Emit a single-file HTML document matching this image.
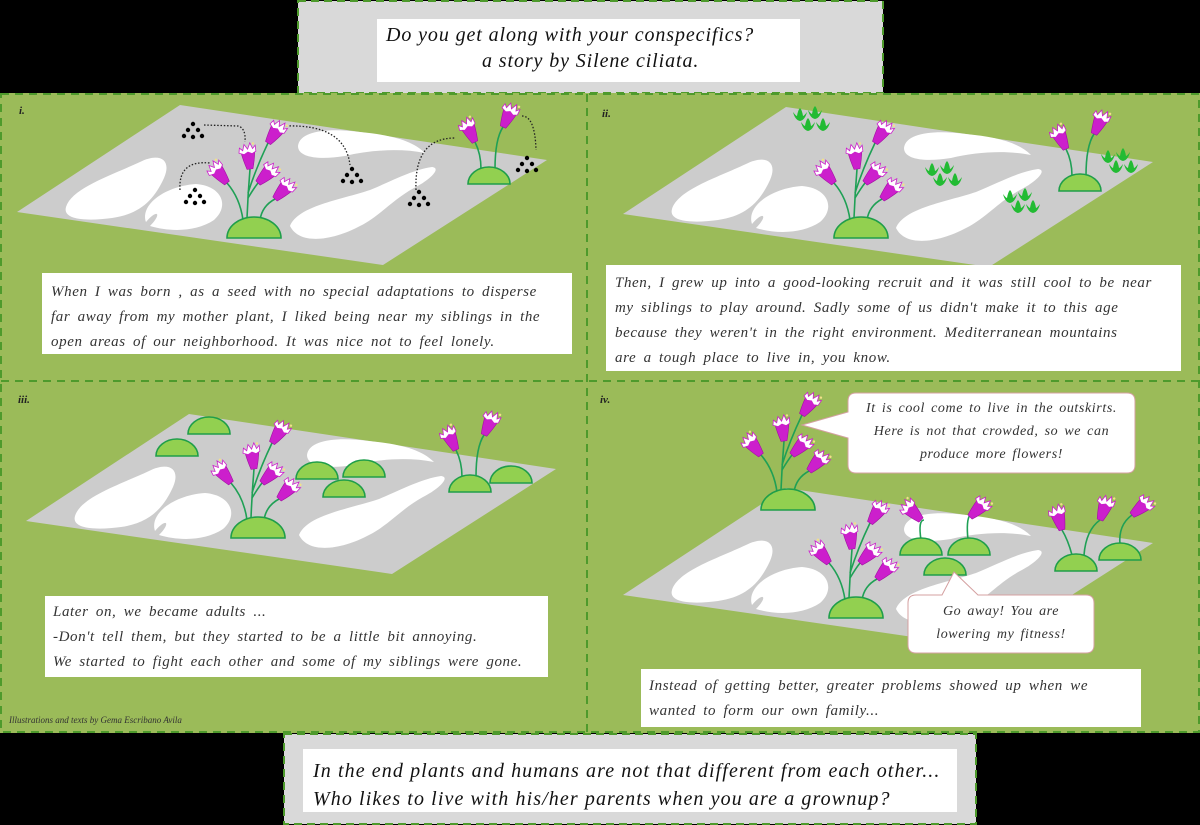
<!DOCTYPE html>
<html><head><meta charset="utf-8">
<style>
html,body{margin:0;padding:0;background:#000;}
#wrap{position:relative;width:1200px;height:825px;overflow:hidden;background:#000;font-family:"Liberation Serif",serif;font-style:italic;color:#222;}
svg{position:absolute;left:0;top:0;}
.t{position:absolute;white-space:nowrap;font-size:15px;line-height:25px;letter-spacing:0.6px;word-spacing:3px;color:#333;}
.h{position:absolute;white-space:nowrap;color:#111;}
.lab{position:absolute;font-size:11px;font-weight:bold;color:#222;}
</style></head><body><div id="wrap">
<svg width="1200" height="825" viewBox="0 0 1200 825">
<defs>
<g id="bell">
<path d="M-3,0 Q-6,-10 -7,-18 L7,-18 Q6,-10 3,0 Z" fill="#cc1fcc" stroke="#a010a0" stroke-width="0.6"/>
<polygon points="-9,-17 -8,-22 -5,-19 -3,-25 0,-20 3,-26 5,-20 8,-23 8,-17 4,-15 0,-17 -4,-15" fill="#fff" stroke="#cc1fcc" stroke-width="0.8"/>
<circle cx="6" cy="-25" r="1.2" fill="#f4e08a"/>
</g>
<path id="mound" d="M-27,0 A27,21 0 0 1 27,0 Z" fill="#92d050" stroke="#1f9e4a" stroke-width="1.6"/>
<path id="mounds" d="M-21,0 A21,17 0 0 1 21,0 Z" fill="#92d050" stroke="#1f9e4a" stroke-width="1.6"/>
<g id="plant5">
<g fill="none" stroke="#1fa055" stroke-width="1.6">
<path d="M-11,-18 Q-14,-40 -27,-55"/>
<path d="M-7,-20 Q-6,-45 -4,-69"/>
<path d="M-6,-45 Q2,-70 14,-95"/>
<path d="M-6,-40 Q0,-50 4,-55"/>
<path d="M6,-18 Q8,-32 21,-39"/>
</g>
<use href="#bell" transform="translate(-27,-55) rotate(-39)"/>
<use href="#bell" transform="translate(-4,-69) rotate(-7)"/>
<use href="#bell" transform="translate(14,-95) rotate(34)"/>
<use href="#bell" transform="translate(4,-55) rotate(45)"/>
<use href="#bell" transform="translate(21,-39) rotate(43)"/>
<use href="#mound"/>
</g>
<g id="plant2">
<g fill="none" stroke="#1fa055" stroke-width="1.6">
<path d="M-8,-15 Q-8,-30 -14,-42"/>
<path d="M6,-15 Q6,-45 14,-57"/>
</g>
<use href="#bell" transform="translate(-14,-42) rotate(-25)"/>
<use href="#bell" transform="translate(14,-57) rotate(25)"/>
<use href="#mounds"/>
</g>
<g id="seeds" fill="#000">
<circle cx="0" cy="0" r="2.2"/><circle cx="-5" cy="6" r="2.2"/><circle cx="5" cy="6" r="2.2"/>
<circle cx="-9" cy="12" r="2.2"/><circle cx="0" cy="13" r="2.2"/><circle cx="9" cy="12" r="2.2"/>
</g>
<g id="tuft" fill="#22bb33">
<path d="M-7,-6 Q-5,2 0,3 Q5,2 7,-6 Q4,-2 3,-2 Q2,-8 0,-10 Q-2,-8 -3,-2 Q-4,-2 -7,-6Z"/>
</g>
<g id="tuft4">
<use href="#tuft" transform="translate(0,0)"/><use href="#tuft" transform="translate(15,-2)"/>
<use href="#tuft" transform="translate(8,10)"/><use href="#tuft" transform="translate(23,10)"/>
</g>
<g id="land">
<path d="M17,212 L180,105 L547,160 L383,265 Z" fill="#cccccc"/>
<g fill="#fff">
<path d="M66,207 C72,188 110,176 140,162 C160,152 172,160 164,178 C154,200 140,214 112,218 C90,221 62,221 66,207Z"/>
<path d="M146,222 C140,204 166,186 196,184 C222,186 230,206 214,220 C196,232 170,232 150,226 C162,214 158,208 146,222Z"/>
<path d="M298,146 C300,130 330,128 360,132 C390,135 412,140 425,153 C400,148 370,150 345,156 C320,160 298,158 298,146Z"/>
<path d="M290,226 C298,206 340,200 370,190 C394,180 412,170 432,167 C442,168 430,180 414,188 C392,200 380,216 360,226 C334,240 300,246 290,226Z"/>
</g>
</g>
</defs>

<rect x="298" y="1" width="585" height="92" fill="#d9d9d9" stroke="#4e9a2c" stroke-width="2" stroke-dasharray="8,5"/>
<rect x="377" y="19" width="423" height="63" fill="#fff"/>

<rect x="0" y="93" width="1200" height="640" fill="#9bbb59"/>
<g fill="none" stroke="#4e9a2c" stroke-width="2" stroke-dasharray="8,6">
<rect x="1" y="94" width="1198" height="638"/>
<line x1="587" y1="94" x2="587" y2="732"/>
<line x1="1" y1="381" x2="1199" y2="381"/>
</g>

<use href="#land"/>
<g fill="none" stroke="#222" stroke-width="1.3" stroke-dasharray="1.5,1.8">
<path d="M180,190 Q178,160 210,163"/>
<path d="M204,125 L238,126 Q246,128 245,142"/>
<path d="M286,126 Q345,124 350,165"/>
<path d="M416,190 Q414,138 455,138"/>
<path d="M522,116 Q535,116 536,150"/>
</g>
<use href="#seeds" transform="translate(193,124)"/>
<use href="#seeds" transform="translate(195,190)"/>
<use href="#seeds" transform="translate(352,169)"/>
<use href="#seeds" transform="translate(419,192)"/>
<use href="#seeds" transform="translate(527,158)"/>
<use href="#plant5" transform="translate(254,238)"/>
<use href="#plant2" transform="translate(489,184)"/>

<g transform="translate(606,2)"><use href="#land"/></g>
<use href="#tuft4" transform="translate(800,118)"/>
<use href="#tuft4" transform="translate(932,173)"/>
<use href="#tuft4" transform="translate(1010,200)"/>
<use href="#tuft4" transform="translate(1108,160)"/>
<use href="#plant5" transform="translate(861,238)"/>
<use href="#plant2" transform="translate(1080,191)"/>

<g transform="translate(9,309)"><use href="#land"/></g>
<use href="#mounds" transform="translate(209,434)"/>
<use href="#mounds" transform="translate(177,456)"/>
<use href="#mounds" transform="translate(317,479)"/>
<use href="#mounds" transform="translate(364,477)"/>
<use href="#mounds" transform="translate(344,497)"/>
<use href="#mounds" transform="translate(511,483)"/>
<use href="#plant5" transform="translate(258,538)"/>
<use href="#plant2" transform="translate(470,492)"/>

<g transform="translate(606,383)"><use href="#land"/></g>
<use href="#plant5" transform="translate(788,510)"/>
<use href="#plant5" transform="translate(856,618)"/>
<g fill="none" stroke="#1fa055" stroke-width="1.6">
<path d="M921,540 Q918,520 924,520"/><path d="M968,540 Q966,520 970,515"/>
<path d="M1072,555 Q1068,540 1062,530"/><path d="M1084,555 Q1086,530 1100,520"/><path d="M1120,545 Q1118,525 1132,515"/>
</g>
<use href="#bell" transform="translate(921,520) rotate(-45)"/>
<use href="#bell" transform="translate(970,517) rotate(45)"/>
<use href="#bell" transform="translate(1062,530) rotate(-15)"/>
<use href="#bell" transform="translate(1100,520) rotate(20)"/>
<use href="#bell" transform="translate(1132,515) rotate(50)"/>
<use href="#mounds" transform="translate(921,555)"/>
<use href="#mounds" transform="translate(969,555)"/>
<use href="#mounds" transform="translate(945,575)"/>
<use href="#mounds" transform="translate(1076,571)"/>
<use href="#mounds" transform="translate(1120,560)"/>

<path d="M856,393 L1127,393 Q1135,393 1135,401 L1135,465 Q1135,473 1127,473 L856,473 Q848,473 848,465 L848,438 L802,425 L848,412 L848,401 Q848,393 856,393 Z" fill="#fff" stroke="#d4a0a0" stroke-width="1"/>
<path d="M916,595 L942,595 L954,572 L978,595 L1086,595 Q1094,595 1094,603 L1094,645 Q1094,653 1086,653 L916,653 Q908,653 908,645 L908,603 Q908,595 916,595 Z" fill="#fff" stroke="#d4a0a0" stroke-width="1"/>

<rect x="42" y="273" width="530" height="81" fill="#fff"/>
<rect x="606" y="265" width="575" height="106" fill="#fff"/>
<rect x="45" y="596" width="503" height="81" fill="#fff"/>
<rect x="641" y="669" width="500" height="58" fill="#fff"/>

<rect x="284" y="734" width="692" height="90" fill="#d9d9d9" stroke="#4e9a2c" stroke-width="2" stroke-dasharray="8,5"/>
<rect x="303" y="749" width="654" height="63" fill="#fff"/>
</svg>

<div class="h" style="left:386px;top:24px;font-size:20px;letter-spacing:0.9px;">Do you get along with your conspecifics?</div>
<div class="h" style="left:482px;top:50px;font-size:20px;letter-spacing:0.9px;">a story by Silene ciliata.</div>

<div class="lab" style="left:19px;top:105px;">i.</div>
<div class="lab" style="left:602px;top:108px;">ii.</div>
<div class="lab" style="left:18px;top:394px;">iii.</div>
<div class="lab" style="left:600px;top:394px;">iv.</div>

<div class="t" style="left:51px;top:280px;">When I was born , as a seed with no special adaptations to disperse<br>far away from my mother plant, I liked being near my siblings in the<br>open  areas of our neighborhood. It was nice not to feel lonely.</div>
<div class="t" style="left:615px;top:271px;">Then, I grew up into a  good-looking recruit and it was still cool to be near<br>my siblings to play around. Sadly some  of us didn't make it to this age<br>because they weren't in the right environment.  Mediterranean mountains<br>are a tough place to live in, you know.</div>
<div class="t" style="left:53px;top:600px;">Later on, we became adults ...<br>-Don't tell them, but they started to be a little bit annoying.<br>We started to fight each other and some of my siblings were gone.</div>
<div class="t" style="left:649px;top:674px;">Instead of getting better, greater problems  showed up when we<br>wanted to form our own family...</div>
<div class="t" style="left:848px;top:397px;width:287px;text-align:center;font-size:14px;line-height:23px;letter-spacing:0.6px;word-spacing:2px;">It is cool come to live in the outskirts.<br>Here is not that crowded, so we can<br>produce more flowers!</div>
<div class="t" style="left:908px;top:600px;width:186px;text-align:center;font-size:14px;line-height:23px;letter-spacing:0.6px;word-spacing:2px;">Go away! You are<br>lowering my fitness!</div>
<div class="h" style="left:9px;top:715px;font-size:9px;color:#333;">Illustrations and texts by Gema Escribano Avila</div>

<div class="h" style="left:313px;top:757px;font-size:20px;line-height:28px;letter-spacing:1.1px;">In the end plants  and humans  are not that different from each other...<br>Who likes to live with his/her parents when you are a grownup?</div>
</div></body></html>
